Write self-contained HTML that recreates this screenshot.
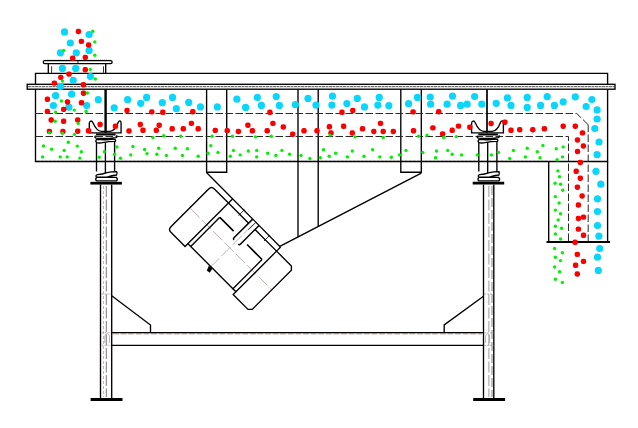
<!DOCTYPE html>
<html>
<head>
<meta charset="utf-8">
<title>Linear vibrating screen</title>
<style>
html,body{margin:0;padding:0;background:#fff;}
body{width:638px;height:428px;overflow:hidden;font-family:"Liberation Sans",sans-serif;}
svg{display:block;}
.l{fill:none;stroke:#000;stroke-width:1.35;}
.t{fill:none;stroke:#000;stroke-width:0.8;}
.k{fill:none;stroke:#000;stroke-width:2;}
.d{fill:none;stroke:#2a2a2a;stroke-width:1;stroke-dasharray:7.5 2.5;}
.g{fill:none;stroke:#888;stroke-width:0.8;stroke-dasharray:6 2;}
.c{fill:none;stroke:#a66;stroke-width:0.6;stroke-dasharray:7 2 1.5 2;}
</style>
</head>
<body>
<svg width="638" height="428" viewBox="0 0 638 428">
<rect width="638" height="428" fill="#fff"/>

<!-- ===== STRUCTURE ===== -->
<g id="structure">
<!-- inlet -->
<rect class="l" x="43.3" y="60.6" width="68.8" height="3" rx="1.4"/>
<path d="M45 60.3H110.5" fill="none" stroke="#000" stroke-width="0.9" stroke-dasharray="1 0.9"/>
<path class="l" d="M48.3 63.6V73.3M105.7 63.6V73.3"/>
<path class="t" d="M51.6 66.3V72.8M103.5 66.3V72.8M77.9 60.6V63.6" stroke="#333"/>
<!-- cover -->
<path class="l" d="M35.5 84.2V73.3H607.6V84.2"/>
<!-- flange -->
<rect class="l" x="27.2" y="84.3" width="587.8" height="4.9" stroke-width="1.2"/>
<path d="M28 86.7H614" fill="none" stroke="#3a3a3a" stroke-width="0.9" stroke-dasharray="3 0.5"/>
<!-- body -->
<path class="l" d="M35.5 89.1V161.5H607.6V89.1"/>
<path d="M37 160.5H547" fill="none" stroke="#9a9a9a" stroke-width="0.6" stroke-dasharray="2.5 1.5"/>
<!-- dividers -->
<path class="l" d="M206.6 89.1V172.2H226.7V89.1"/>
<path class="l" d="M298 89.1V237.3M318.2 89.1V226.8"/>
<path class="l" d="M400.8 89.1V172.2H421.3V89.1"/>
<!-- deck dashed lines -->
<path class="d" d="M35.5 113.5H576.7L588 124.5"/>
<path class="d" d="M588.2 124.5V242" stroke="#979797" stroke-width="1.25"/>
<path class="d" d="M35.5 136.5H568.5V242"/>
<!-- outlet chute -->
<path class="l" d="M548.7 161.5V242M607.6 161.5V242"/>
<path class="k" d="M546.5 242H610"/>
<!-- motor bracket lines -->
<path class="l" d="M206.5 172.5L279.8 246.4L421.3 173.2"/>
</g>

<!-- ===== FRAME ===== -->
<g id="frame">
<!-- left leg -->
<path class="l" d="M100.5 184.5V398M111.7 184.5V398"/>
<path d="M103.5 186V397" fill="none" stroke="#aaa" stroke-width="0.8" stroke-dasharray="3 2"/>
<path d="M106.3 186V397" fill="none" stroke="#766" stroke-width="0.9" stroke-dasharray="11 2.5"/>
<path d="M90.6 399.5H122.5" stroke="#000" stroke-width="3" fill="none"/>
<!-- right leg -->
<path class="l" d="M483.5 184.5V398M493.8 184.5V398"/>
<path d="M488.9 186V397" fill="none" stroke="#999" stroke-width="1" stroke-dasharray="11 2.5"/>
<path d="M492 186V397" fill="none" stroke="#666" stroke-width="0.8" stroke-dasharray="9 3"/>
<path d="M473.2 399.5H505.1" stroke="#000" stroke-width="3" fill="none"/>
<!-- beam -->
<path class="l" d="M111.7 332.6H483.5M111.7 345.3H483.5"/>
<path d="M113 333.8H482" fill="none" stroke="#855" stroke-width="0.7" stroke-dasharray="6 1.6"/>
<path d="M101.5 294H111M484 294H493.5M101.5 332.8H111M484 332.8H493.5M101.5 345.3H111M484 345.3H493.5" fill="none" stroke="#999" stroke-width="0.7" stroke-dasharray="2 1"/>
<path d="M104.8 343V336Q107.3 331 109.6 336V343M485.6 343V336Q487.6 331 489.6 336V343" fill="none" stroke="#999" stroke-width="0.7"/>
<!-- gussets -->
<path class="l" d="M111.7 295.8L150.5 325V332.6"/>
<path class="l" d="M483.5 296.2L444.2 324.9V332.6"/>
</g>

<!-- ===== SPRINGS ===== -->
<path d="M105.6 89.1V132.8" fill="none" stroke="#000" stroke-width="2.4"/>
<path d="M487 89.1V132.8" fill="none" stroke="#000" stroke-width="1.7"/>
<g id="springL">
<path class="l" d="M89.3 132.8V123.5C89.3 120.6 91.8 120.3 92.8 122.5C94.8 127 97 131.3 101.5 131.3H110C114.5 131.3 116.5 127 118.3 122.3C119.2 120.1 121.1 120.4 121.1 123.5V132.8Z"/>
<path d="M96 134.5H115.6" fill="none" stroke="#000" stroke-width="2"/>
<path class="l" d="M95.6 135.6Q94 137.4 96.2 138.2Q106 139 116 137.6Q118 136.6 116.4 135.4M97 139.4Q105 140.4 113.5 139.2Q116.6 139.4 115.2 141.4Q108 141.6 104 142.4Q99 143.4 96.6 142.6Q94.8 141 97 139.4Z"/>
<path class="l" d="M96.5 142.6V171.6M105.4 142V173.2M114.6 141.6V171.6"/>
<path class="l" d="M96.6 177.2Q95 175.6 97.4 174.6Q103 174.2 106 172.8Q111 171.6 116.6 171.6Q117.6 173.4 116.6 175Q112 175.6 107 177.2ZM96.6 177.4H116.4Q118.2 179.2 116.4 180.9H96.6Q94.8 179.2 96.6 177.4Z"/>
<path d="M90.4 183.2H121.9" stroke="#000" stroke-width="2.7" fill="none"/>
</g>
<use href="#springL" x="382.3"/>

<!-- ===== MOTOR ===== -->
<g id="motor" transform="translate(230.8 248.8) rotate(45)">
<!-- local: x along axis, y perpendicular (negative y = mounting side) -->
<path d="M-57 0H58" fill="none" stroke="#a08888" stroke-width="0.6" stroke-dasharray="13 3"/>
<path d="M-1.5 -33V27" fill="none" stroke="#908888" stroke-width="0.6" stroke-dasharray="13 3"/>
<path class="l" d="M-34 -30.7H-54Q-58 -30.7 -58 -26.7V26.7Q-58 30.7 -54 30.7H-34Z"/>
<path class="l" d="M34 -30.7H55L58 -27.7V27.7L55 30.7H34Z"/>
<path class="l" d="M-30 -14.5V26.7H29.7V-14.5"/>
<path class="l" d="M-34 26.7H-30M34 26.7H29.7"/>
<path class="l" d="M-34 -30.7H-5.5M3.5 -30.7H34"/>
<path class="l" d="M-34 -30.7V-36.5M34 -30.7V-36.5"/>
<path d="M-30 -14.5H-10.5M29.7 -14.5H8.5" fill="none" stroke="#000" stroke-width="1.6"/>
<path d="M-5.5 -36.5V-10Q-5.5 -8.6 -4 -8.6M3.5 -36.5V-10Q3.5 -8.6 2 -8.6" fill="none" stroke="#000" stroke-width="1.5"/>
<path class="t" d="M-18 -37.5V-29M18 -37.5V-29M-1 -36V-26" stroke="#888"/>
<path d="M-3.6 27.2L1 27.2L2 31.8L-1.6 32.4Z" fill="#000"/>
</g>

<!-- ===== PARTICLES ===== -->
<g id="cyan" fill="#08d6fb">
<circle cx="64.5" cy="31.9" r="3.6"/><circle cx="89.1" cy="34.5" r="3.6"/><circle cx="70.3" cy="43" r="3.6"/><circle cx="89.1" cy="50.4" r="3.6"/><circle cx="60.4" cy="52.8" r="3.6"/><circle cx="76.3" cy="52.8" r="3.6"/><circle cx="62.4" cy="68.4" r="3.6"/><circle cx="75.7" cy="68.4" r="3.6"/><circle cx="90.4" cy="76.5" r="3.6"/><circle cx="73.2" cy="80.3" r="3.6"/><circle cx="60.4" cy="86.5" r="3.6"/><circle cx="55.6" cy="95.7" r="3.6"/><circle cx="71.6" cy="94.2" r="3.6"/><circle cx="53.4" cy="105.5" r="3.6"/><circle cx="68.9" cy="107.2" r="3.6"/><circle cx="86.7" cy="105.5" r="3.6"/><circle cx="98.3" cy="99.7" r="3.6"/><circle cx="114.2" cy="107.8" r="3.6"/><circle cx="127.6" cy="99.7" r="3.6"/><circle cx="140.7" cy="103.3" r="3.6"/><circle cx="146.6" cy="97.4" r="3.6"/><circle cx="162.3" cy="102.7" r="3.6"/><circle cx="172.5" cy="97.4" r="3.6"/><circle cx="176.3" cy="108.7" r="3.6"/><circle cx="188.7" cy="102.4" r="3.6"/><circle cx="200.4" cy="106.9" r="3.6"/><circle cx="217.3" cy="106.9" r="3.6"/><circle cx="236.9" cy="99.2" r="3.6"/><circle cx="245.6" cy="107.4" r="3.6"/><circle cx="257.3" cy="97.4" r="3.6"/><circle cx="261.4" cy="105.4" r="3.6"/><circle cx="276.2" cy="96.6" r="3.6"/><circle cx="279.4" cy="105.4" r="3.6"/><circle cx="295.4" cy="104.7" r="3.6"/><circle cx="308" cy="98.4" r="3.6"/><circle cx="316" cy="105.1" r="3.6"/><circle cx="332.5" cy="96.1" r="3.6"/><circle cx="331.9" cy="105.1" r="3.6"/><circle cx="346.9" cy="103.6" r="3.6"/><circle cx="357.3" cy="98.4" r="3.6"/><circle cx="364.5" cy="106.9" r="3.6"/><circle cx="379.2" cy="97.4" r="3.6"/><circle cx="377.8" cy="105.1" r="3.6"/><circle cx="388.8" cy="105.6" r="3.6"/><circle cx="408.6" cy="103.7" r="3.6"/><circle cx="417.4" cy="97.4" r="3.6"/><circle cx="430.2" cy="97" r="3.6"/><circle cx="430.6" cy="104.2" r="3.6"/><circle cx="447.1" cy="104.2" r="3.6"/><circle cx="452.5" cy="96.1" r="3.6"/><circle cx="460.6" cy="105.4" r="3.6"/><circle cx="467.1" cy="104.2" r="3.6"/><circle cx="474.6" cy="96.5" r="3.6"/><circle cx="481.8" cy="104.2" r="3.6"/><circle cx="496.2" cy="103.3" r="3.6"/><circle cx="507.4" cy="97.9" r="3.6"/><circle cx="511" cy="105.4" r="3.6"/><circle cx="527.2" cy="97.4" r="3.6"/><circle cx="527.2" cy="107.4" r="3.6"/><circle cx="540.6" cy="105.4" r="3.6"/><circle cx="547.2" cy="96.7" r="3.6"/><circle cx="554.4" cy="105.4" r="3.6"/><circle cx="563.2" cy="101.8" r="3.6"/><circle cx="575.3" cy="96.8" r="3.6"/><circle cx="586.1" cy="106.5" r="3.6"/><circle cx="591.9" cy="99.5" r="3.6"/><circle cx="597.1" cy="109.9" r="3.6"/><circle cx="597.1" cy="119" r="3.6"/><circle cx="594.8" cy="128.5" r="3.6"/><circle cx="599" cy="142" r="3.6"/><circle cx="597.1" cy="154.7" r="3.6"/><circle cx="596" cy="171.3" r="3.6"/><circle cx="600.8" cy="184.2" r="3.6"/><circle cx="597.5" cy="198.8" r="3.6"/><circle cx="597.5" cy="211.5" r="3.6"/><circle cx="597.5" cy="225.5" r="3.6"/><circle cx="598.9" cy="236.1" r="3.6"/><circle cx="599.7" cy="248.5" r="3.6"/><circle cx="597.5" cy="257.2" r="3.6"/><circle cx="598.3" cy="270.4" r="3.6"/>
</g>
<g id="red" fill="#fb0000">
<rect x="75.7" y="28.8" width="5.4" height="5.4" rx="2.1"/><rect x="78.7" y="38.7" width="5.4" height="5.4" rx="2.1"/><rect x="85.9" y="42.3" width="5.4" height="5.4" rx="2.1"/><rect x="70.0" y="55.5" width="5.4" height="5.4" rx="2.1"/><rect x="82.6" y="54.7" width="5.4" height="5.4" rx="2.1"/><rect x="82.6" y="67.0" width="5.4" height="5.4" rx="2.1"/><rect x="66.3" y="71.4" width="5.4" height="5.4" rx="2.1"/><rect x="58.1" y="74.7" width="5.4" height="5.4" rx="2.1"/><rect x="51.7" y="80.4" width="5.4" height="5.4" rx="2.1"/><rect x="80.7" y="82.0" width="5.4" height="5.4" rx="2.1"/><rect x="80.8" y="90.5" width="5.4" height="5.4" rx="2.1"/><rect x="44.7" y="96.6" width="5.4" height="5.4" rx="2.1"/><rect x="64.8" y="99.3" width="5.4" height="5.4" rx="2.1"/><rect x="78.8" y="100.1" width="5.4" height="5.4" rx="2.1"/><rect x="44.7" y="108.7" width="5.4" height="5.4" rx="2.1"/><rect x="61.0" y="106.7" width="5.4" height="5.4" rx="2.1"/><rect x="48.5" y="117.3" width="5.4" height="5.4" rx="2.1"/><rect x="60.9" y="118.6" width="5.4" height="5.4" rx="2.1"/><rect x="75.0" y="117.3" width="5.4" height="5.4" rx="2.1"/><rect x="46.7" y="128.8" width="5.4" height="5.4" rx="2.1"/><rect x="60.2" y="128.8" width="5.4" height="5.4" rx="2.1"/><rect x="75.0" y="128.5" width="5.4" height="5.4" rx="2.1"/><rect x="85.8" y="128.1" width="5.4" height="5.4" rx="2.1"/><rect x="97.4" y="121.8" width="5.4" height="5.4" rx="2.1"/><rect x="112.7" y="123.6" width="5.4" height="5.4" rx="2.1"/><rect x="124.3" y="107.8" width="5.4" height="5.4" rx="2.1"/><rect x="126.3" y="128.3" width="5.4" height="5.4" rx="2.1"/><rect x="149.1" y="109.2" width="5.4" height="5.4" rx="2.1"/><rect x="160.1" y="109.6" width="5.4" height="5.4" rx="2.1"/><rect x="190.1" y="109.0" width="5.4" height="5.4" rx="2.1"/><rect x="137.6" y="121.8" width="5.4" height="5.4" rx="2.1"/><rect x="156.5" y="122.5" width="5.4" height="5.4" rx="2.1"/><rect x="188.7" y="120.7" width="5.4" height="5.4" rx="2.1"/><rect x="140.3" y="127.6" width="5.4" height="5.4" rx="2.1"/><rect x="153.6" y="127.6" width="5.4" height="5.4" rx="2.1"/><rect x="169.5" y="126.1" width="5.4" height="5.4" rx="2.1"/><rect x="180.6" y="126.1" width="5.4" height="5.4" rx="2.1"/><rect x="195.5" y="126.1" width="5.4" height="5.4" rx="2.1"/><rect x="212.6" y="127.7" width="5.4" height="5.4" rx="2.1"/><rect x="267.2" y="109.6" width="5.4" height="5.4" rx="2.1"/><rect x="224.5" y="127.9" width="5.4" height="5.4" rx="2.1"/><rect x="235.7" y="128.8" width="5.4" height="5.4" rx="2.1"/><rect x="245.2" y="122.5" width="5.4" height="5.4" rx="2.1"/><rect x="249.7" y="128.1" width="5.4" height="5.4" rx="2.1"/><rect x="264.5" y="128.1" width="5.4" height="5.4" rx="2.1"/><rect x="270.2" y="120.7" width="5.4" height="5.4" rx="2.1"/><rect x="280.6" y="124.3" width="5.4" height="5.4" rx="2.1"/><rect x="290.0" y="131.5" width="5.4" height="5.4" rx="2.1"/><rect x="301.3" y="128.1" width="5.4" height="5.4" rx="2.1"/><rect x="314.3" y="128.1" width="5.4" height="5.4" rx="2.1"/><rect x="339.3" y="109.6" width="5.4" height="5.4" rx="2.1"/><rect x="350.1" y="107.8" width="5.4" height="5.4" rx="2.1"/><rect x="326.7" y="124.0" width="5.4" height="5.4" rx="2.1"/><rect x="328.3" y="130.3" width="5.4" height="5.4" rx="2.1"/><rect x="340.9" y="123.6" width="5.4" height="5.4" rx="2.1"/><rect x="349.6" y="130.3" width="5.4" height="5.4" rx="2.1"/><rect x="359.8" y="126.1" width="5.4" height="5.4" rx="2.1"/><rect x="371.1" y="128.8" width="5.4" height="5.4" rx="2.1"/><rect x="377.8" y="120.7" width="5.4" height="5.4" rx="2.1"/><rect x="380.5" y="128.8" width="5.4" height="5.4" rx="2.1"/><rect x="390.6" y="128.8" width="5.4" height="5.4" rx="2.1"/><rect x="410.4" y="109.2" width="5.4" height="5.4" rx="2.1"/><rect x="436.0" y="109.0" width="5.4" height="5.4" rx="2.1"/><rect x="410.8" y="128.1" width="5.4" height="5.4" rx="2.1"/><rect x="430.2" y="125.2" width="5.4" height="5.4" rx="2.1"/><rect x="439.9" y="131.2" width="5.4" height="5.4" rx="2.1"/><rect x="449.5" y="127.6" width="5.4" height="5.4" rx="2.1"/><rect x="455.8" y="123.4" width="5.4" height="5.4" rx="2.1"/><rect x="467.1" y="124.5" width="5.4" height="5.4" rx="2.1"/><rect x="488.4" y="120.8" width="5.4" height="5.4" rx="2.1"/><rect x="502.2" y="119.5" width="5.4" height="5.4" rx="2.1"/><rect x="508.3" y="127.6" width="5.4" height="5.4" rx="2.1"/><rect x="517.0" y="127.0" width="5.4" height="5.4" rx="2.1"/><rect x="530.1" y="127.0" width="5.4" height="5.4" rx="2.1"/><rect x="541.7" y="126.1" width="5.4" height="5.4" rx="2.1"/><rect x="560.5" y="123.5" width="5.4" height="5.4" rx="2.1"/><rect x="572.6" y="123.5" width="5.4" height="5.4" rx="2.1"/><rect x="579.8" y="130.2" width="5.4" height="5.4" rx="2.1"/><rect x="574.8" y="137.3" width="5.4" height="5.4" rx="2.1"/><rect x="580.7" y="143.3" width="5.4" height="5.4" rx="2.1"/><rect x="574.8" y="148.8" width="5.4" height="5.4" rx="2.1"/><rect x="577.6" y="159.8" width="5.4" height="5.4" rx="2.1"/><rect x="573.5" y="168.6" width="5.4" height="5.4" rx="2.1"/><rect x="577.6" y="175.5" width="5.4" height="5.4" rx="2.1"/><rect x="574.7" y="184.5" width="5.4" height="5.4" rx="2.1"/><rect x="579.4" y="193.3" width="5.4" height="5.4" rx="2.1"/><rect x="575.7" y="202.3" width="5.4" height="5.4" rx="2.1"/><rect x="575.7" y="215.8" width="5.4" height="5.4" rx="2.1"/><rect x="580.8" y="214.4" width="5.4" height="5.4" rx="2.1"/><rect x="575.7" y="226.4" width="5.4" height="5.4" rx="2.1"/><rect x="580.8" y="232.6" width="5.4" height="5.4" rx="2.1"/><rect x="572.4" y="239.6" width="5.4" height="5.4" rx="2.1"/><rect x="574.6" y="251.7" width="5.4" height="5.4" rx="2.1"/><rect x="580.8" y="258.7" width="5.4" height="5.4" rx="2.1"/><rect x="572.9" y="262.6" width="5.4" height="5.4" rx="2.1"/><rect x="574.6" y="271.3" width="5.4" height="5.4" rx="2.1"/>
</g>
<g id="green" fill="#00f200">
<circle cx="92.8" cy="31.2" r="1.7"/><circle cx="94.8" cy="41.9" r="1.7"/><circle cx="63.7" cy="50.4" r="1.7"/><circle cx="94.8" cy="55.3" r="1.7"/><circle cx="90.2" cy="69.5" r="1.7"/><circle cx="95.3" cy="79" r="1.7"/><circle cx="62.4" cy="81.1" r="1.7"/><circle cx="87.4" cy="93" r="1.7"/><circle cx="61.4" cy="101" r="1.7"/><circle cx="55.6" cy="112.3" r="1.7"/><circle cx="74.3" cy="110.1" r="1.7"/><circle cx="86.1" cy="111.5" r="1.7"/><circle cx="55.2" cy="121.3" r="1.7"/><circle cx="78.2" cy="123.4" r="1.7"/><circle cx="49.4" cy="132.6" r="1.7"/><circle cx="62.4" cy="133.2" r="1.7"/><circle cx="74.4" cy="134.4" r="1.7"/><circle cx="68.3" cy="142.3" r="1.7"/><circle cx="43.5" cy="145.9" r="1.7"/><circle cx="51.6" cy="149.2" r="1.7"/><circle cx="64.2" cy="150.4" r="1.7"/><circle cx="77.3" cy="146.1" r="1.7"/><circle cx="81.3" cy="151.8" r="1.7"/><circle cx="42.6" cy="156.9" r="1.7"/><circle cx="60.2" cy="156.9" r="1.7"/><circle cx="67.2" cy="156.9" r="1.7"/><circle cx="79.8" cy="158.1" r="1.7"/><circle cx="99.2" cy="157.2" r="1.7"/><circle cx="104.3" cy="151.8" r="1.7"/><circle cx="114.5" cy="154.2" r="1.7"/><circle cx="116.9" cy="147" r="1.7"/><circle cx="120.5" cy="158.3" r="1.7"/><circle cx="152.9" cy="137.5" r="1.7"/><circle cx="163.7" cy="135.7" r="1.7"/><circle cx="180.8" cy="136.2" r="1.7"/><circle cx="212.1" cy="136.2" r="1.7"/><circle cx="132.9" cy="146.5" r="1.7"/><circle cx="144.6" cy="149.5" r="1.7"/><circle cx="158.7" cy="148.3" r="1.7"/><circle cx="175.2" cy="148.3" r="1.7"/><circle cx="187.4" cy="148.8" r="1.7"/><circle cx="210.8" cy="145.6" r="1.7"/><circle cx="130.8" cy="154.9" r="1.7"/><circle cx="147" cy="153.6" r="1.7"/><circle cx="156.9" cy="154.2" r="1.7"/><circle cx="166.4" cy="155.4" r="1.7"/><circle cx="182.4" cy="155.4" r="1.7"/><circle cx="198.2" cy="156.3" r="1.7"/><circle cx="208.1" cy="153.3" r="1.7"/><circle cx="218" cy="152.4" r="1.7"/><circle cx="232.4" cy="136.2" r="1.7"/><circle cx="255.5" cy="136.9" r="1.7"/><circle cx="271.3" cy="136.2" r="1.7"/><circle cx="233.5" cy="150.4" r="1.7"/><circle cx="248.3" cy="151" r="1.7"/><circle cx="256.7" cy="150.4" r="1.7"/><circle cx="281.9" cy="150.4" r="1.7"/><circle cx="230.3" cy="156.3" r="1.7"/><circle cx="240.2" cy="154.9" r="1.7"/><circle cx="256.7" cy="156.9" r="1.7"/><circle cx="267.7" cy="153.3" r="1.7"/><circle cx="275.8" cy="155.4" r="1.7"/><circle cx="289.6" cy="154.2" r="1.7"/><circle cx="301" cy="155.4" r="1.7"/><circle cx="309.9" cy="158.5" r="1.7"/><circle cx="330.1" cy="135.1" r="1.7"/><circle cx="355" cy="136.9" r="1.7"/><circle cx="383.2" cy="137.5" r="1.7"/><circle cx="323.5" cy="149.7" r="1.7"/><circle cx="335.7" cy="153.3" r="1.7"/><circle cx="352.3" cy="151" r="1.7"/><circle cx="372.6" cy="149.7" r="1.7"/><circle cx="406" cy="150.4" r="1.7"/><circle cx="320.3" cy="157.8" r="1.7"/><circle cx="329.2" cy="156.3" r="1.7"/><circle cx="347.4" cy="156.9" r="1.7"/><circle cx="364" cy="156.3" r="1.7"/><circle cx="379.8" cy="156.9" r="1.7"/><circle cx="391.3" cy="157.2" r="1.7"/><circle cx="399.5" cy="154.9" r="1.7"/><circle cx="418.5" cy="136.2" r="1.7"/><circle cx="427" cy="135.1" r="1.7"/><circle cx="443.7" cy="137.5" r="1.7"/><circle cx="456.3" cy="136.6" r="1.7"/><circle cx="422.8" cy="152.4" r="1.7"/><circle cx="436.5" cy="151" r="1.7"/><circle cx="447.7" cy="150.4" r="1.7"/><circle cx="452.2" cy="154.2" r="1.7"/><circle cx="461.5" cy="154.9" r="1.7"/><circle cx="435.6" cy="157.8" r="1.7"/><circle cx="477.3" cy="154.9" r="1.7"/><circle cx="491.4" cy="154.9" r="1.7"/><circle cx="498.5" cy="152.4" r="1.7"/><circle cx="542.9" cy="145.4" r="1.7"/><circle cx="527.2" cy="148.3" r="1.7"/><circle cx="513.4" cy="150.4" r="1.7"/><circle cx="537.3" cy="151.8" r="1.7"/><circle cx="556.2" cy="148.8" r="1.7"/><circle cx="563.2" cy="146.9" r="1.7"/><circle cx="509.8" cy="158.5" r="1.7"/><circle cx="525.4" cy="156.9" r="1.7"/><circle cx="540" cy="157.8" r="1.7"/><circle cx="562.5" cy="156.9" r="1.7"/><circle cx="557.1" cy="159.7" r="1.7"/><circle cx="557.9" cy="170.9" r="1.7"/><circle cx="559.5" cy="176.8" r="1.7"/><circle cx="555.1" cy="183.3" r="1.7"/><circle cx="560.6" cy="184.2" r="1.7"/><circle cx="562.7" cy="190.2" r="1.7"/><circle cx="555.4" cy="196.6" r="1.7"/><circle cx="559.1" cy="203" r="1.7"/><circle cx="555.4" cy="210.1" r="1.7"/><circle cx="560.5" cy="213.7" r="1.7"/><circle cx="558.2" cy="219.9" r="1.7"/><circle cx="555.4" cy="226.3" r="1.7"/><circle cx="561.6" cy="228.3" r="1.7"/><circle cx="555.4" cy="233.9" r="1.7"/><circle cx="560.5" cy="239" r="1.7"/><circle cx="554.6" cy="248.5" r="1.7"/><circle cx="562.4" cy="252.7" r="1.7"/><circle cx="555.4" cy="257.2" r="1.7"/><circle cx="560.5" cy="260.6" r="1.7"/><circle cx="554.6" cy="267" r="1.7"/><circle cx="559.6" cy="271.8" r="1.7"/><circle cx="555.4" cy="279.3" r="1.7"/><circle cx="562.4" cy="282.4" r="1.7"/>
</g>
</svg>
</body>
</html>
